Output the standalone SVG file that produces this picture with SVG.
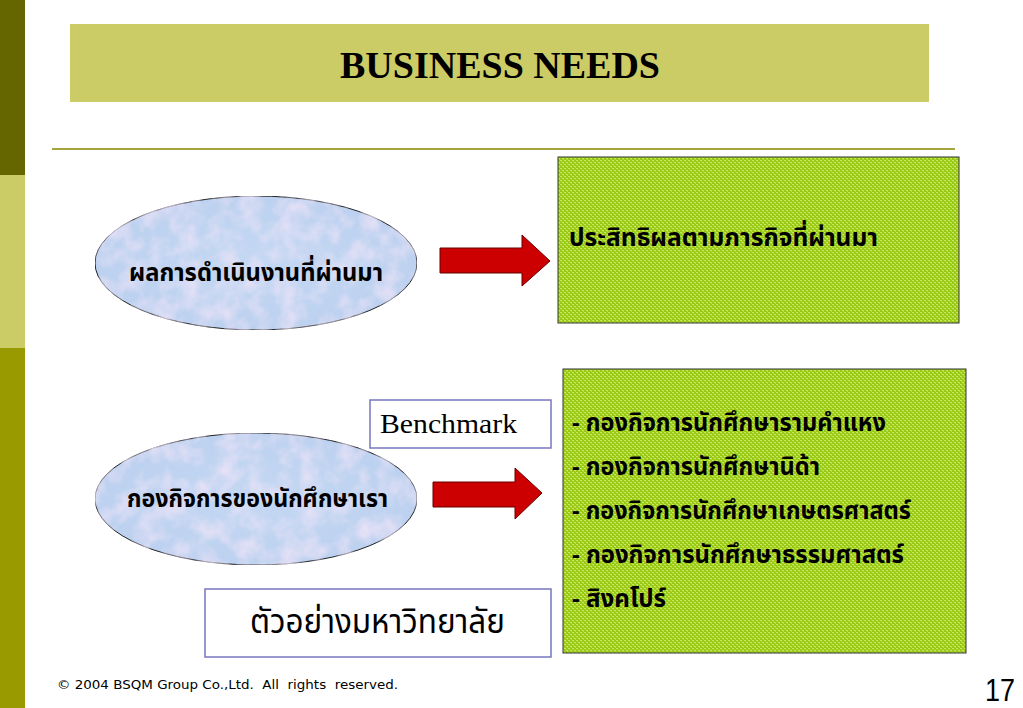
<svg xmlns="http://www.w3.org/2000/svg" width="1023" height="708" viewBox="0 0 1023 708">
<style>
.thb{font-family:"Noto Sans Thai","Garuda","Loma","Tlwg Typo","Noto Sans","DejaVu Sans",sans-serif;font-weight:bold;fill:#000}
.thr{font-family:"Noto Sans Thai","Garuda","Loma","Noto Sans","DejaVu Sans",sans-serif;font-weight:normal;fill:#000}
.ell{fill:url(#blueTex);stroke:#222;stroke-width:1}
.gbox{fill:url(#greenPat);stroke:#333;stroke-width:1}
.wbox{fill:#fff;stroke:#7777C0;stroke-width:1.5}
.arrow{fill:#CC0000;stroke:#660000;stroke-width:1}
</style>
<defs>
<pattern id="greenPat" width="4" height="4" patternUnits="userSpaceOnUse">
<rect width="4" height="4" fill="#99C914"/>
<rect x="0" y="0" width="2" height="1" fill="#C8E760"/>
<rect x="2" y="2" width="2" height="1" fill="#C8E760"/>
<rect x="1" y="1" width="1" height="1" fill="#B2D83C"/>
<rect x="3" y="3" width="1" height="1" fill="#B2D83C"/>
</pattern>
<filter id="tex" x="0" y="0" width="100%" height="100%">
<feTurbulence type="fractalNoise" baseFrequency="0.05" numOctaves="3" seed="4" result="n"/>
<feColorMatrix in="n" type="matrix" values="0 0 0 0 0.85  0 0 0 0 0.78  0 0 0 0 0.94  1.6 0 0 0 -0.6" result="pink"/>
<feComposite in="pink" in2="SourceGraphic" operator="in" result="pk"/>
<feMerge><feMergeNode in="SourceGraphic"/><feMergeNode in="pk"/></feMerge>
</filter>
<radialGradient id="blueTex" cx="50%" cy="50%" r="60%">
<stop offset="0" stop-color="#C4D8F3"/>
<stop offset="1" stop-color="#BBD0EF"/>
</radialGradient>
</defs>

<g id="background">
<rect x="0" y="0" width="1023" height="708" fill="#fff"/>
<rect x="0" y="0" width="25" height="175" fill="#666600"/>
<rect x="0" y="175" width="25" height="173" fill="#CCCC66"/>
<rect x="0" y="348" width="25" height="360" fill="#999900"/>
<line x1="52" y1="149" x2="955" y2="149" stroke="#A4A43A" stroke-width="2"/>
</g>

<g id="title">
<rect x="70" y="24" width="859" height="78" fill="#CCCC66"/>
<text x="500" y="78" text-anchor="middle" font-family="Liberation Serif, serif" font-weight="bold" font-size="38" textLength="320" lengthAdjust="spacingAndGlyphs">BUSINESS NEEDS</text>
</g>

<g id="node-past-results">
<ellipse class="ell" cx="256" cy="263" rx="161" ry="67" filter="url(#tex)"/>
<text class="thb" x="129" y="281" font-size="25" textLength="254" lengthAdjust="spacingAndGlyphs">ผลการดำเนินงานที่ผ่านมา</text>
</g>

<g id="node-efficiency">
<rect class="gbox" x="558" y="157" width="401" height="166"/>
<text class="thb" x="569" y="246" font-size="25" textLength="309" lengthAdjust="spacingAndGlyphs">ประสิทธิผลตามภารกิจที่ผ่านมา</text>
</g>

<g id="node-our-student-affairs">
<ellipse class="ell" cx="256" cy="499" rx="161" ry="66" filter="url(#tex)"/>
<text class="thb" x="127" y="507" font-size="25" textLength="261" lengthAdjust="spacingAndGlyphs">กองกิจการของนักศึกษาเรา</text>
</g>

<g id="node-benchmark">
<rect class="wbox" x="370" y="400" width="181" height="48"/>
<text x="380" y="433" font-family="Liberation Serif, serif" font-size="28" textLength="137" lengthAdjust="spacingAndGlyphs">Benchmark</text>
</g>

<g id="node-universities">
<rect class="wbox" x="205" y="589" width="346" height="68"/>
<text class="thr" x="250" y="633" font-size="34" textLength="255" lengthAdjust="spacingAndGlyphs">ตัวอย่างมหาวิทยาลัย</text>
</g>

<g id="node-benchmark-list">
<rect class="gbox" x="563" y="369" width="403" height="284"/>
<text class="thb" x="572" y="431" font-size="24" textLength="314" lengthAdjust="spacingAndGlyphs">- กองกิจการนักศึกษารามคำแหง</text>
<text class="thb" x="572" y="475" font-size="24" textLength="248" lengthAdjust="spacingAndGlyphs">- กองกิจการนักศึกษานิด้า</text>
<text class="thb" x="572" y="519" font-size="24" textLength="339" lengthAdjust="spacingAndGlyphs">- กองกิจการนักศึกษาเกษตรศาสตร์</text>
<text class="thb" x="572" y="563" font-size="24" textLength="332" lengthAdjust="spacingAndGlyphs">- กองกิจการนักศึกษาธรรมศาสตร์</text>
<text class="thb" x="572" y="607" font-size="24" textLength="94" lengthAdjust="spacingAndGlyphs">- สิงคโปร์</text>
</g>

<g id="connectors">
<polygon class="arrow" points="440,248 522,248 522,235 550,261 522,286 522,273 440,273"/>
<polygon class="arrow" points="433,482 515,482 515,468 542,493 515,519 515,507 433,507"/>
</g>

<g id="footer">
<text x="57" y="689" font-family="DejaVu Sans, sans-serif" font-size="12" style="white-space:pre" textLength="341" lengthAdjust="spacingAndGlyphs">© 2004 BSQM Group Co.,Ltd.  All  rights  reserved.</text>
<text x="985" y="701" font-family="Liberation Sans, sans-serif" font-size="32" textLength="30" lengthAdjust="spacingAndGlyphs">17</text>
</g>
</svg>
